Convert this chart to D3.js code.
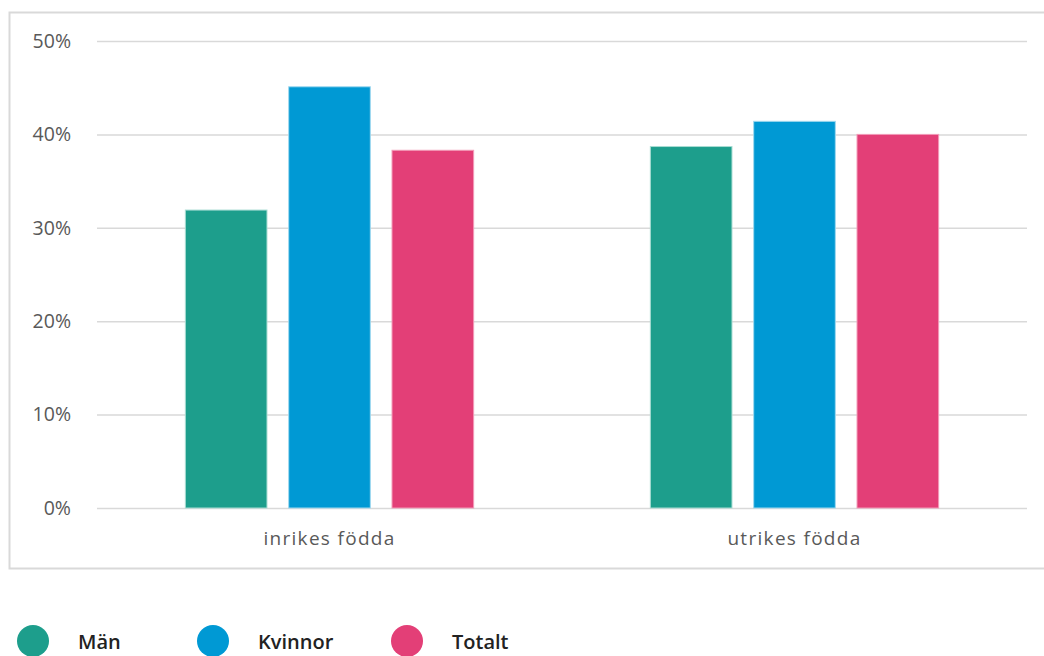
<!DOCTYPE html>
<html><head><meta charset="utf-8">
<script src="https://cdn.jsdelivr.net/npm/d3@7"></script>
<style>body{margin:0;background:#fff;}svg{display:block;}</style>
</head><body>
<svg id="c" width="1044" height="656"></svg>
<script>
const categories = ["inrikes födda", "utrikes födda"];
const seriesNames = ["Män", "Kvinnor", "Totalt"];
const man = [31.9, 38.7];
const kvinnor = [45.1, 41.4];
const totalt = [38.3, 40.0];
const tickValues = [0, 10, 20, 30, 40, 50];
const colors = ["#1d9e8c", "#0099d4", "#e33f77"];
const strokes = ["#a8dcd3", "#9fd8ef", "#f29bb8"];

const series = [man, kvinnor, totalt];
const svg = d3.select("#c");
const mLeft = 97, mRight = 1027, mTop = 41, mBottom = 508;

svg.append("rect").attr("x", 9.5).attr("y", 12.5).attr("width", 1060).attr("height", 556)
  .attr("fill", "none").attr("stroke", "#d9d9d9").attr("stroke-width", 2);

const y = d3.scaleLinear().domain([0, 50]).range([mBottom, mTop]);
const x0 = d3.scaleBand().domain(categories).range([mLeft, mRight]).paddingInner(0).paddingOuter(0);
const x1 = d3.scaleBand().domain(seriesNames).range([x0.bandwidth()*0.19, x0.bandwidth()*0.81]).paddingInner(0.21);

const yAxis = svg.append("g").attr("transform", `translate(${mLeft},0)`)
  .call(d3.axisLeft(y).tickValues(tickValues).tickSize(-(mRight-mLeft)).tickFormat(d => d + "%"));
yAxis.select(".domain").remove();
yAxis.selectAll(".tick line").attr("stroke", "#d9d9d9").attr("stroke-width", 1.5);
yAxis.selectAll(".tick text").attr("x", -26).attr("fill", "#595959")
  .style("font-family", "'Open Sans', sans-serif").style("font-size", "19.5px");

const groups = svg.selectAll("g.grp").data(categories).join("g").attr("class", "grp")
  .attr("transform", d => `translate(${x0(d)},0)`);
groups.each(function(cat, ci) {
  d3.select(this).selectAll("rect").data(seriesNames).join("rect")
    .attr("x", d => x1(d)).attr("width", x1.bandwidth())
    .attr("y", (d, si) => y(series[si][ci]))
    .attr("height", (d, si) => y(0) - y(series[si][ci]))
    .attr("fill", (d, si) => colors[si])
    .attr("stroke", (d, si) => strokes[si]).attr("stroke-width", 1);
});

svg.selectAll("text.cat").data(categories).join("text").attr("class", "cat")
  .attr("x", d => x0(d) + x0.bandwidth()/2).attr("y", 545)
  .attr("text-anchor", "middle").attr("fill", "#595959")
  .style("font-family", "'Open Sans', sans-serif").style("font-size", "19px")
  .style("letter-spacing", "1.3px").text(d => d);

const legendX = [33, 213, 407];
const lg = svg.selectAll("g.lg").data(seriesNames).join("g").attr("class", "lg")
  .attr("transform", (d, i) => `translate(${legendX[i]},641)`);
lg.append("circle").attr("r", 16).attr("fill", (d, i) => colors[i]);
lg.append("text").attr("x", 45).attr("y", 8).attr("fill", "#222")
  .style("font-family", "'Open Sans', sans-serif").style("font-size", "20px").style("font-weight", 600)
  .text(d => d);
</script>
</body></html>
